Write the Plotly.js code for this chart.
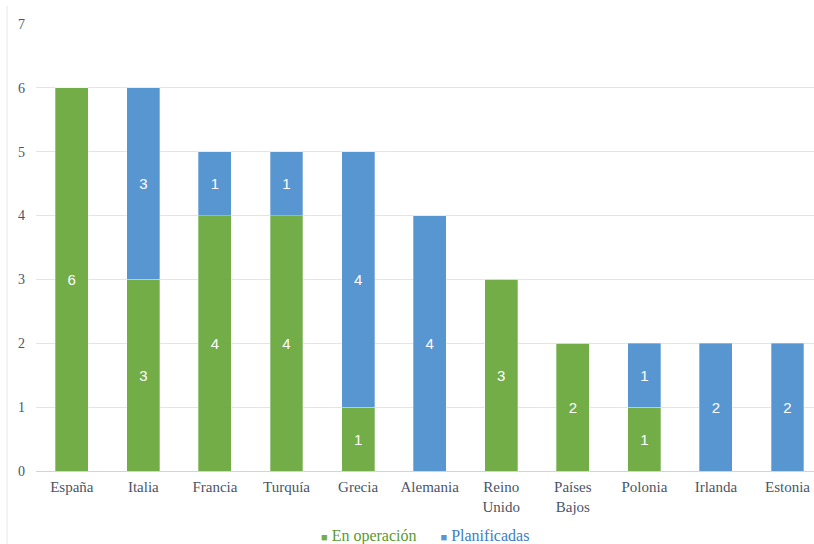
<!DOCTYPE html>
<html>
<head>
<meta charset="utf-8">
<script src="https://cdn.plot.ly/plotly-3.0.1.min.js"></script>
<style>html,body{margin:0;padding:0;background:#fff}#chart{width:814px;height:544px}</style>
</head>
<body>
<div id="chart"></div>
<script>
const categories = ["España", "Italia", "Francia", "Turquía", "Grecia", "Alemania", "Reino<br>Unido", "Países<br>Bajos", "Polonia", "Irlanda", "Estonia"];
const enOperacion = [6, 3, 4, 4, 1, 0, 3, 2, 1, 0, 0];
const planificadas = [0, 3, 1, 1, 4, 4, 0, 0, 1, 2, 2];
const seriesNames = ["En operación", "Planificadas"];
const yTicks = [0, 1, 2, 3, 4, 5, 6, 7];

const GREEN = "#72ad48";
const BLUE = "#5896d2";
const SERIF = "'Liberation Serif', 'Times New Roman', Times, serif";
const labelFont = {family: "'Liberation Sans', Arial, sans-serif", size: 15, color: "#ffffff"};

function txt(arr) { return arr.map(v => v > 0 ? String(v) : ""); }

const traces = [
  {
    type: "bar", x: categories, y: enOperacion, name: seriesNames[0],
    marker: {color: GREEN, line: {color: "rgba(255,255,255,0.6)", width: 0.5}},
    text: txt(enOperacion), textposition: "inside", insidetextanchor: "middle",
    textfont: labelFont, textangle: 0, hoverinfo: "y"
  },
  {
    type: "bar", x: categories, y: planificadas, name: seriesNames[1],
    marker: {color: BLUE, line: {color: "rgba(255,255,255,0.6)", width: 0.5}},
    text: txt(planificadas), textposition: "inside", insidetextanchor: "middle",
    textfont: labelFont, textangle: 0, hoverinfo: "y"
  }
];

const legendText =
  '<span style="color:' + GREEN + ';font-size:11px">■</span> ' +
  '<span style="color:#5a9a30">' + seriesNames[0] + '</span>' +
  '      ' +
  '<span style="color:' + BLUE + ';font-size:11px">■</span> ' +
  '<span style="color:#3d7dbf">' + seriesNames[1] + '</span>';

const layout = {
  width: 814, height: 544,
  margin: {l: 36, r: 0, t: 24, b: 73},
  paper_bgcolor: "#ffffff", plot_bgcolor: "#ffffff",
  barmode: "stack",
  bargap: 0.54,
  font: {family: SERIF, size: 15, color: "#4a5568"},
  xaxis: {
    type: "category",
    range: [-0.5, 10.37],
    showgrid: false, zeroline: false, showline: false,
    ticks: "", ticklabelstandoff: 5,
    tickfont: {family: SERIF, size: 15, color: "#4a5568"},
    fixedrange: true
  },
  yaxis: {
    range: [0, 7], tickvals: yTicks, ticktext: yTicks.map(String),
    showgrid: true, gridcolor: "#e3e3e8", gridwidth: 1,
    zeroline: true, zerolinecolor: "#d0d4dc", zerolinewidth: 1,
    showline: false, ticks: "", ticklabelstandoff: 10,
    tickfont: {family: SERIF, size: 14, color: "#4a5568"},
    fixedrange: true
  },
  showlegend: false,
  annotations: [
    {xref: "paper", yref: "paper", x: 0.5, y: -0.145, xanchor: "center", yanchor: "middle",
     showarrow: false, text: legendText, font: {family: SERIF, size: 16}}
  ],
  shapes: [
    {type: "line", xref: "paper", yref: "paper", x0: -0.0373, x1: -0.0373, y0: -0.17, y1: 1.04,
     line: {color: "#e6e6e6", width: 1}}
  ]
};

Plotly.newPlot("chart", traces, layout, {displayModeBar: false, staticPlot: true});
</script>
</body>
</html>
